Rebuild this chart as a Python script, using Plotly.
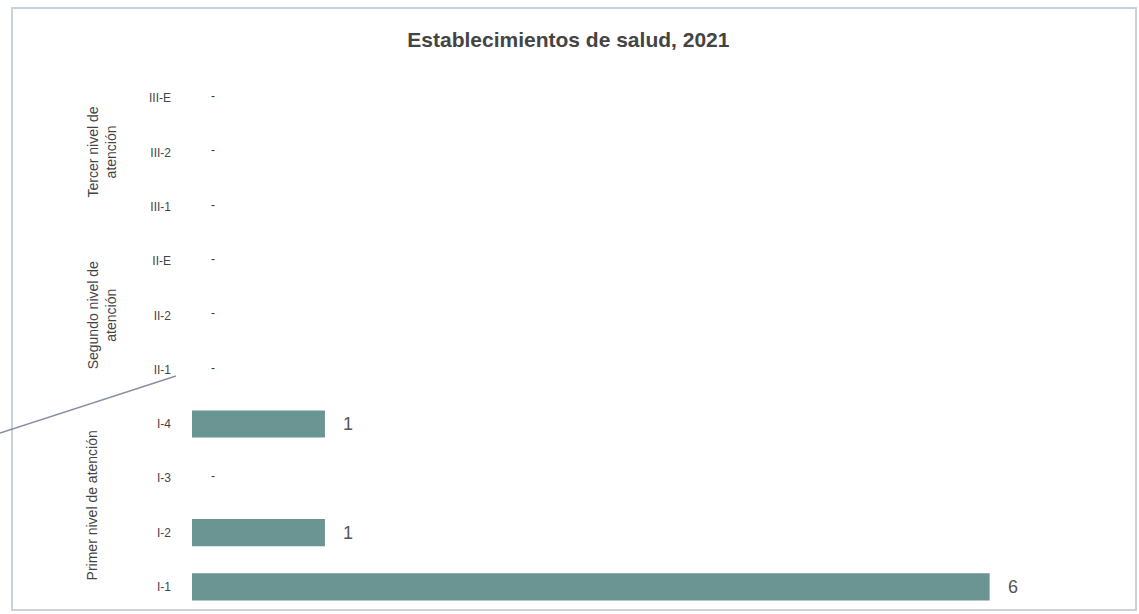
import plotly.graph_objects as go

# Health establishments by category, 2021
categories = ["I-1", "I-2", "I-3", "I-4", "II-1", "II-2", "II-E", "III-1", "III-2", "III-E"]
counts = [6, 1, None, 1, None, None, None, None, None, None]  # None = no establishments ("-")

groups = ["Primer nivel de atención", "Segundo nivel de<br>atención", "Tercer nivel de<br>atención"]
group_members = [["I-1", "I-2", "I-3", "I-4"], ["II-1", "II-2", "II-E"], ["III-1", "III-2", "III-E"]]
group_label_x = [92, 102, 102]  # horizontal centre of each rotated label, px

title_text = "Establecimientos de salud, 2021"

BAR = "#6a9593"
FONT = "Liberation Sans Narrow, Liberation Sans, Arial, sans-serif"

W, H = 1139, 614
L, R, T, B = 192, 43, 71, 0
pw, ph = W - L - R, H - T - B

bar_vals = [v if v is not None else 0 for v in counts]

fig = go.Figure(
    go.Bar(
        x=bar_vals,
        y=categories,
        orientation="h",
        marker=dict(color=BAR, line=dict(width=0)),
        width=0.5,
        hoverinfo="x+y",
    )
)

# value labels beside each bar, "-" where there are none
for cat, v in zip(categories, counts):
    fig.add_annotation(
        x=v if v is not None else 0,
        y=cat,
        xref="x",
        yref="y",
        text=str(v) if v is not None else "-",
        showarrow=False,
        xanchor="left",
        xshift=16 if v is not None else 17,
        yshift=0 if v is not None else 2,
        font=dict(family="Liberation Sans, Arial", size=18 if v is not None else 12,
                  color="#555555" if v is not None else "#333333"),
    )

# rotated group labels for each level of care
idx = {c: i for i, c in enumerate(categories)}
n = len(categories)
for g, members, gx in zip(groups, group_members, group_label_x):
    pos = [idx[m] for m in members]
    mid = (min(pos) + max(pos)) / 2
    yp = (mid + 0.5) / n
    fig.add_annotation(
        x=(gx - L) / pw,
        y=yp,
        xref="paper",
        yref="paper",
        text=g,
        textangle=-90,
        showarrow=False,
        xanchor="center",
        yanchor="middle",
        align="center",
        font=dict(family=FONT, size=14, color="#444444"),
    )

# outer frame and the leader line on the left
fig.add_shape(
    type="rect", xref="paper", yref="paper",
    x0=(12 - L) / pw, x1=(1136 - L) / pw,
    y0=(H - 610) / ph, y1=1 + (T - 8) / ph,
    line=dict(color="#c9d2d6", width=2), fillcolor="rgba(0,0,0,0)", layer="below",
)
fig.add_shape(
    type="line", xref="paper", yref="paper",
    x0=(0 - L) / pw, y0=(H - 433) / ph,
    x1=(176 - L) / pw, y1=(H - 376) / ph,
    line=dict(color="#8a8fa6", width=1.5),
)

fig.update_layout(
    width=W,
    height=H,
    margin=dict(l=L, r=R, t=T, b=B),
    paper_bgcolor="white",
    plot_bgcolor="white",
    showlegend=False,
    title=dict(
        text=f"<b>{title_text}</b>",
        x=0.499, xref="container", xanchor="center",
        y=1 - 40 / H, yref="container", yanchor="middle",
        font=dict(family="Liberation Sans, Arial", size=21, color="#444444"),
    ),
    xaxis=dict(range=[0, 6.8], visible=False, fixedrange=True),
    yaxis=dict(
        categoryorder="array",
        categoryarray=categories,
        range=[-0.5, n - 0.5],
        showgrid=False,
        showline=False,
        zeroline=False,
        ticks="",
        ticklabelstandoff=20,
        tickfont=dict(family=FONT, size=12, color="#444444"),
        fixedrange=True,
    ),
)

fig.write_html("out.html")
